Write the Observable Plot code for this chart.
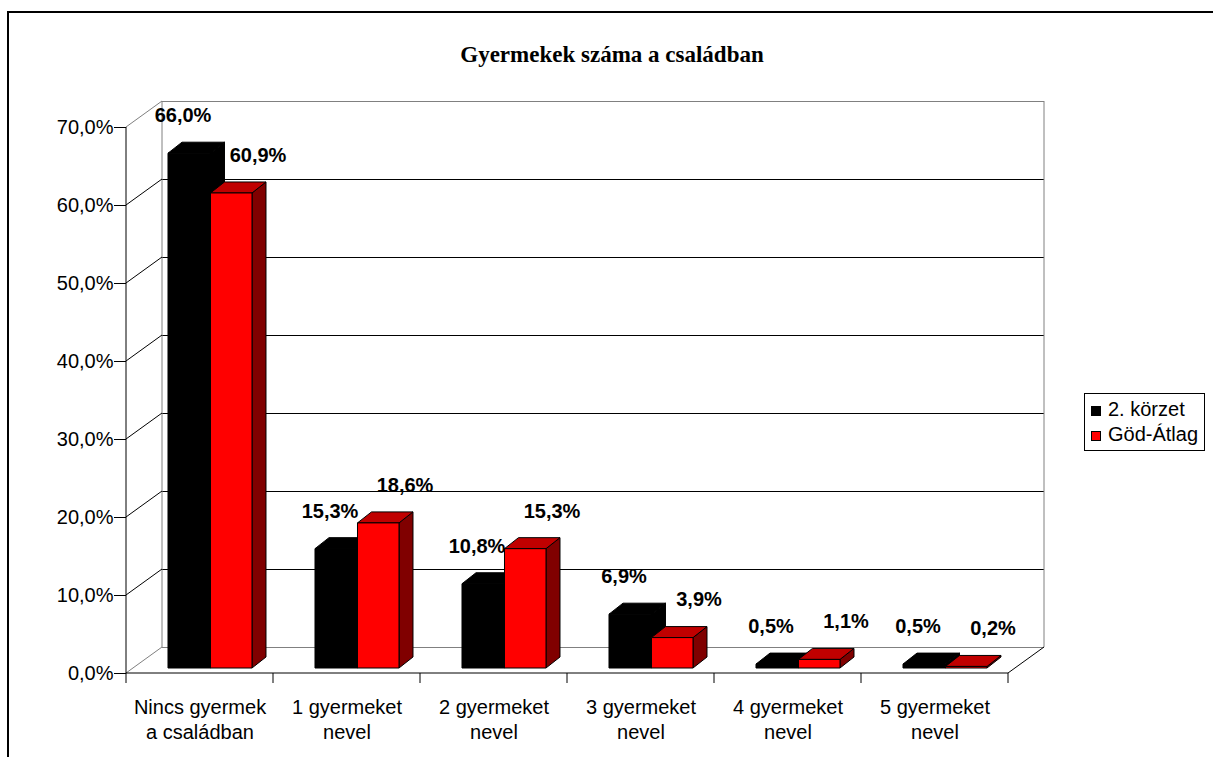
<!DOCTYPE html>
<html>
<head>
<meta charset="utf-8">
<script src="https://cdn.jsdelivr.net/npm/d3@7"></script>
<script src="https://cdn.jsdelivr.net/npm/@observablehq/plot@0.6"></script>
<style>
  html, body { margin: 0; padding: 0; background: #fff; overflow: hidden; }
  #page { position: relative; width: 1213px; height: 757px; overflow: hidden; font-family: "Liberation Sans", Arial, sans-serif; }
  #frame { position: absolute; left: 7px; top: 11px; width: 1300px; height: 900px; border-left: 2px solid #000; border-top: 2px solid #000; box-sizing: border-box; }
  #title { position: absolute; left: 0; width: 1224px; top: 41px; text-align: center; font-family: "Liberation Serif", "Times New Roman", serif; font-weight: bold; font-size: 23px; line-height: 28px; color: #000; }
  #chart { position: absolute; left: 0; top: 0; }
  #legend { position: absolute; left: 1084px; top: 393px; width: 121px; height: 58px; border: 1px solid #000; box-sizing: border-box; background: #fff; font-size: 20px; color: #000; }
  .item { position: absolute; left: 6px; height: 24px; line-height: 24px; white-space: nowrap; }
  .sw { display: inline-block; width: 10px; height: 10px; border: 1px solid #000; box-sizing: border-box; margin-right: 7px; vertical-align: 0px; }
</style>
</head>
<body>
<div id="page">
  <div id="frame"></div>
  <div id="title"></div>
  <div id="chart"></div>
  <div id="legend"></div>
</div>
<script>
// ---- data ----
const title = "Gyermekek száma a családban";
const categories = ["Nincs gyermek\na családban", "1 gyermeket\nnevel", "2 gyermeket\nnevel", "3 gyermeket\nnevel", "4 gyermeket\nnevel", "5 gyermeket\nnevel"];
const seriesNames = ["2. körzet", "Göd-Átlag"];
const korzet2 = [66.0, 15.3, 10.8, 6.9, 0.5, 0.5];
const godAtlag = [60.9, 18.6, 15.3, 3.9, 1.1, 0.2];
const yTicks = [0, 10, 20, 30, 40, 50, 60, 70];

// ---- style ----
const yMax = 70;
const WX = 36, WY = -26;      // back-wall depth offset (px)
const BX = 14, BY = -11;      // bar depth offset (px)
const LIFT = 5;               // bars stand slightly behind the front edge
const GRAY = "#808080";
const seriesStyle = [
  {front: "#000000", top: "#000000", side: "#000000", stroke: "#000000"},
  {front: "#FF0000", top: "#C00000", side: "#800000", stroke: "#000000"}
];
const seriesValues = [korzet2, godAtlag];
const fmt = v => v.toFixed(1).replace(".", ",") + "%";

const rows = [];
seriesNames.forEach((s, si) => categories.forEach((c, ci) => rows.push({cat: c, series: s, si, value: seriesValues[si][ci]})));

function scene(index, scales, values, dimensions) {
  const X = scales.x, Y = scales.y;
  const bw = X.bandwidth();
  const [xa, xb] = X.range();
  const y0 = Y(0), yT = Y(yMax);
  const g = d3.create("svg:g");
  const ln = (x1, y1, x2, y2, stroke) => g.append("line")
    .attr("x1", x1).attr("y1", y1).attr("x2", x2).attr("y2", y2)
    .attr("stroke", stroke).attr("stroke-width", 1);
  // back wall edges
  ln(xa + WX, yT + WY, xa + WX, y0 + WY, GRAY);
  ln(xb + WX, yT + WY, xb + WX, y0 + WY, GRAY);
  // side diagonals
  for (const t of yTicks) ln(xa, Y(t), xa + WX, Y(t) + WY, (t === 0 || t === yMax) ? GRAY : "#000");
  ln(xb, y0, xb + WX, y0 + WY, "#000");
  // front axes
  ln(xa, yT, xa, y0, "#000");
  ln(xa, y0, xb, y0, "#000");
  for (let i = 0; i <= categories.length; i++) ln(xa + i * bw, y0, xa + i * bw, y0 + 10, "#000");
  // bars
  const poly = (pts, fill, stroke) => g.append("path")
    .attr("d", "M" + pts.map(p => p.join(",")).join("L") + "Z")
    .attr("fill", fill).attr("stroke", stroke).attr("stroke-width", 1).attr("stroke-linejoin", "miter");
  categories.forEach((c, ci) => {
    const bs = X(c);
    const edges = [bs + bw * 0.2857, bs + bw * 0.5748, bs + bw * 0.8571];
    seriesValues.forEach((vals, si) => {
      const st = seriesStyle[si];
      const xl = edges[si], xr = edges[si + 1];
      const yt = Y(vals[ci]) - LIFT, yb = y0 - LIFT;
      poly([[xr, yt], [xr + BX, yt + BY], [xr + BX, yb + BY], [xr, yb]], st.side, st.stroke);
      poly([[xl, yt], [xl + BX, yt + BY], [xr + BX, yt + BY], [xr, yt]], st.top, st.stroke);
      poly([[xl, yt], [xr, yt], [xr, yb], [xl, yb]], st.front, st.stroke);
    });
  });
  return g.node();
}

const chart = Plot.plot({
  width: 1213,
  height: 757,
  marginLeft: 126,
  marginRight: 205,
  marginTop: 127,
  marginBottom: 84,
  style: {background: "transparent", fontFamily: "'Liberation Sans', Arial, sans-serif", fontSize: "20px", color: "#000", overflow: "visible"},
  x: {type: "band", domain: categories, padding: 0, axis: null},
  y: {domain: [0, yMax], ticks: yTicks, tickSize: 12, tickPadding: 1, tickFormat: fmt, label: null},
  marks: [
    Plot.ruleY(yTicks.filter(t => t > 0 && t < yMax), {dx: WX, dy: WY, stroke: "#000"}),
    Plot.ruleY([0, yMax], {dx: WX, dy: WY, stroke: GRAY}),
    scene,
    Plot.text(categories, {x: d => d, frameAnchor: "bottom", lineAnchor: "top", dy: 23, lineHeight: 1.25, fontSize: 20, fill: "#000"}),
    Plot.text(rows.filter(d => d.si === 0), {x: "cat", y: "value", text: d => fmt(d.value), dx: -17, dy: -43, fontWeight: "bold", fontSize: 20, fill: "#000"}),
    Plot.text(rows.filter(d => d.si === 1), {x: "cat", y: "value", text: d => fmt(d.value), dx: 58, dy: -43, fontWeight: "bold", fontSize: 20, fill: "#000"})
  ]
});
document.getElementById("chart").appendChild(chart);
document.getElementById("title").textContent = title;

const legend = document.getElementById("legend");
seriesNames.forEach((s, i) => {
  const it = document.createElement("div");
  it.className = "item";
  it.style.top = (3 + i * 25) + "px";
  const sw = document.createElement("span");
  sw.className = "sw";
  sw.style.background = seriesStyle[i].front;
  it.appendChild(sw);
  it.appendChild(document.createTextNode(s));
  legend.appendChild(it);
});
</script>
</body>
</html>
